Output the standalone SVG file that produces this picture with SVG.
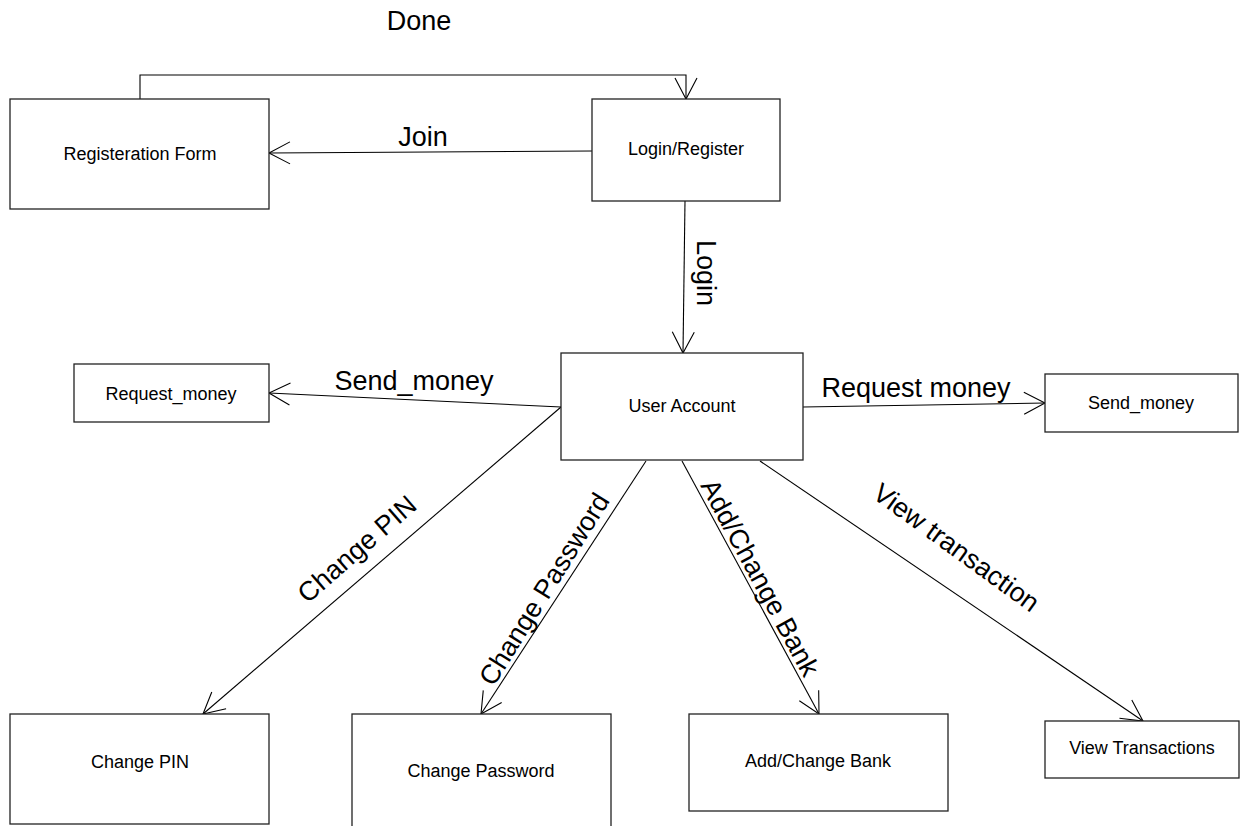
<svg xmlns="http://www.w3.org/2000/svg" width="1247" height="826" viewBox="0 0 1247 826">
<style>
.box{fill:#fff;stroke:#222;stroke-width:1.3}
.node{font-family:"Liberation Sans",Arial,sans-serif;font-size:18px;fill:#000;text-anchor:middle}
.lbl{font-family:"Liberation Sans",Arial,sans-serif;font-size:27px;fill:#000;text-anchor:middle}
.edge{fill:none;stroke:#000;stroke-width:1.1}
</style>
<defs>
<marker id="arr" viewBox="-23 -12 25 24" markerWidth="25" markerHeight="24" refX="0" refY="0" orient="auto" markerUnits="userSpaceOnUse">
<path d="M-21,-11 L0,0 L-21,11" fill="none" stroke="#000" stroke-width="1.1"/>
</marker>
</defs>
<rect width="1247" height="826" fill="#fff"/>
<g id="connectors">
<polyline class="edge" points="140,99 140,75 686,75 686,99" marker-end="url(#arr)"/>
<line class="edge" x1="592" y1="151" x2="269" y2="153" marker-end="url(#arr)"/>
<line class="edge" x1="685" y1="201" x2="683" y2="353" marker-end="url(#arr)"/>
<line class="edge" x1="561" y1="407" x2="269" y2="393" marker-end="url(#arr)"/>
<line class="edge" x1="803" y1="407" x2="1045" y2="403" marker-end="url(#arr)"/>
<line class="edge" x1="561" y1="407" x2="203" y2="714" marker-end="url(#arr)"/>
<line class="edge" x1="646" y1="461" x2="481" y2="714" marker-end="url(#arr)"/>
<line class="edge" x1="682" y1="461" x2="819" y2="714" marker-end="url(#arr)"/>
<line class="edge" x1="760" y1="461" x2="1143" y2="721" marker-end="url(#arr)"/>
<text class="lbl" x="419" y="30">Done</text>
<text class="lbl" x="423" y="146">Join</text>
<text class="lbl" transform="translate(697,273) rotate(90)">Login</text>
<text class="lbl" x="414" y="390">Send_money</text>
<text class="lbl" x="916" y="397">Request money</text>
<text class="lbl" transform="translate(363,556) rotate(-41)">Change PIN</text>
<text class="lbl" transform="translate(552,594) rotate(-58)">Change Password</text>
<text class="lbl" transform="translate(752,582) rotate(61.6)">Add/Change Bank</text>
<text class="lbl" transform="translate(951,555) rotate(36)">View transaction</text>
</g>
<g id="registration-form"><rect class="box" x="10" y="99" width="259" height="110"/><text class="node" x="140" y="160">Registeration Form</text></g>
<g id="login-register"><rect class="box" x="592" y="99" width="188" height="102"/><text class="node" x="686" y="155">Login/Register</text></g>
<g id="user-account"><rect class="box" x="561" y="353" width="242" height="107"/><text class="node" x="682" y="412">User Account</text></g>
<g id="request-money"><rect class="box" x="74" y="364" width="195" height="58"/><text class="node" x="171" y="400">Request_money</text></g>
<g id="send-money"><rect class="box" x="1045" y="374" width="193" height="58"/><text class="node" x="1141" y="409">Send_money</text></g>
<g id="change-pin"><rect class="box" x="10" y="714" width="259" height="110"/><text class="node" x="140" y="768">Change PIN</text></g>
<g id="change-password"><rect class="box" x="352" y="714" width="259" height="120"/><text class="node" x="481" y="777">Change Password</text></g>
<g id="add-change-bank"><rect class="box" x="689" y="714" width="259" height="97"/><text class="node" x="818" y="767">Add/Change Bank</text></g>
<g id="view-transactions"><rect class="box" x="1045" y="721" width="194" height="57"/><text class="node" x="1142" y="754">View Transactions</text></g>
</svg>
